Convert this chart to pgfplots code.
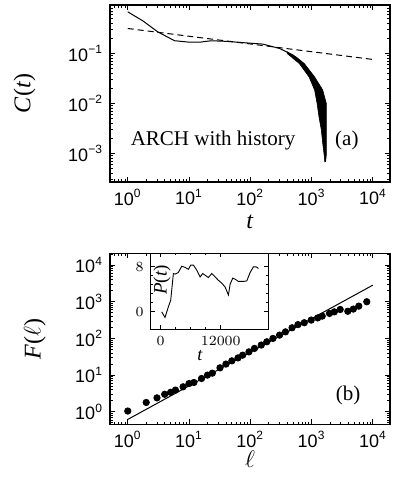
\documentclass[border=0pt]{standalone}
\usepackage{fontspec}
\setmainfont{Liberation Serif}
\setsansfont{Liberation Sans}
\usepackage{pgfplots}
\pgfplotsset{compat=1.18}

\pgfplotstableread{
t C
1 0.68
1.76 0.45
3.1 0.27
5.8 0.18
10.2 0.168
14.8 0.168
21.6 0.178
28 0.178
40 0.175
86 0.163
160 0.154
300 0.126
495 0.093
720 0.063
990 0.034
1260 0.016
1440 0.0074
1590 0.0029
1670 0.00068
}\ctable

\pgfplotstableread{
l F
1 1.05
2 1.8
3 2.4
4 3.0
5 3.4
6 3.9
8 4.8
10 5.9
12 6.3
16 8.1
20 10
24 11.3
32 15.8
40 20
50 24.5
63 29.5
75 35
95 43
117 53.5
151 66
186 81
234 100
300 123
375 151
480 195
600 238
760 268
985 316
1260 363
1490 405
1960 480
2350 530
2930 615
3900 550
4800 630
5900 760
7960 1000
}\ftable

\pgfplotstableread{
t P
200 0
860 -1.0
1530 0.9
2000 2.07
2530 6.8
2870 6.7
3530 7.0
4200 8.1
4870 7.9
5530 7.55
6000 8.3
6530 8.3
7200 7.4
7870 6.2
8400 6.8
8870 6.5
9530 6.1
10200 6.8
10870 6.2
11530 5.6
12200 5.1
12870 4.4
13530 3.0
13870 4.9
14400 6.0
14870 5.8
15530 5.4
16530 5.4
17200 5.5
17870 7.0
18530 8.0
19070 8.0
19530 7.7
}\ptable

\begin{document}
\begin{tikzpicture}
\path[use as bounding box] (0pt,0pt) rectangle (196.5pt,242.5pt);
\pgfplotsset{
  every axis/.append style={
    scale only axis, anchor=south west,
    axis line style={line width=0.75pt},
    every tick/.style={line width=0.4pt, black},
    major tick length=2.4pt, minor tick length=1.3pt,
    tick align=inside, tick pos=both,
    tick label style={font=\fontsize{9}{9}\sffamily},
    label style={font=\fontsize{12}{12}\selectfont},
  },
}
% ---------------- panel (a)
\begin{axis}[
  at={(55pt,151.5pt)}, width=140pt, height=88.5pt,
  xmode=log, ymode=log,
  xmin=0.513, xmax=19055, ymin=2.69e-4, ymax=0.933,
  xtick={1,10,100,1000,10000},
  xticklabels={10\textsuperscript{0},10\textsuperscript{1},10\textsuperscript{2},10\textsuperscript{3},10\textsuperscript{4}},
  ytick={0.001,0.01,0.1},
  yticklabels={10\textsuperscript{−3},10\textsuperscript{−2},10\textsuperscript{−1}},
  minor xtick={0.6,0.7,0.8,0.9,2,3,4,5,6,7,8,9,20,30,40,50,60,70,80,90,200,300,400,500,600,700,800,900,2000,3000,4000,5000,6000,7000,8000,9000},
  minor ytick={0.0003,0.0004,0.0005,0.0006,0.0007,0.0008,0.0009,0.002,0.003,0.004,0.005,0.006,0.007,0.008,0.009,0.02,0.03,0.04,0.05,0.06,0.07,0.08,0.09,0.2,0.3,0.4,0.5,0.6,0.7,0.8,0.9},
  xlabel={\textit{t}},
  ylabel={\textit{C}(\textit{t})},
  xlabel style={at={(axis description cs:0.5,-0.224)}, anchor=center},
  ylabel style={at={(axis description cs:-0.305,0.5)}, anchor=center},
]
\addplot[black, line width=0.5pt] table[x=t,y=C] {\ctable};
\addplot[black, fill=black, line width=0.3pt] coordinates {
 (400,0.108) (560,0.085) (760,0.063) (1120,0.034) (1520,0.0186) (1740,0.01) (1745,0.0054) (1745,0.003) (1740,0.0016) (1735,0.0009) (1700,0.0007)
 (1650,0.00068) (1620,0.00085) (1520,0.0016) (1440,0.003) (1320,0.0054) (1230,0.01) (1120,0.0186) (910,0.034) (630,0.063) (400,0.1)
} -- cycle;
\addplot[black, line width=0.5pt, dash pattern=on 3pt off 2pt] coordinates {(1,0.316) (10000,0.076)};
\node[font=\fontsize{10.5}{10.5}\selectfont] at (axis description cs:0.368,0.232) {ARCH with history};
\node[font=\fontsize{10.5}{10.5}\selectfont] at (axis description cs:0.846,0.232) {(a)};
\end{axis}
% ---------------- panel (b)
\begin{axis}[
  at={(55pt,30.35pt)}, width=140pt, height=85.5pt,
  xmode=log, ymode=log,
  xmin=0.513, xmax=19055, ymin=0.457, ymax=20900,
  xtick={1,10,100,1000,10000},
  xticklabels={10\textsuperscript{0},10\textsuperscript{1},10\textsuperscript{2},10\textsuperscript{3},10\textsuperscript{4}},
  ytick={1,10,100,1000,10000},
  yticklabels={10\textsuperscript{0},10\textsuperscript{1},10\textsuperscript{2},10\textsuperscript{3},10\textsuperscript{4}},
  minor xtick={0.6,0.7,0.8,0.9,2,3,4,5,6,7,8,9,20,30,40,50,60,70,80,90,200,300,400,500,600,700,800,900,2000,3000,4000,5000,6000,7000,8000,9000},
  minor ytick={0.5,0.6,0.7,0.8,0.9,2,3,4,5,6,7,8,9,20,30,40,50,60,70,80,90,200,300,400,500,600,700,800,900,2000,3000,4000,5000,6000,7000,8000,9000,20000},
  xlabel={$\ell$},
  ylabel={\textit{F}($\ell$)},
  xlabel style={at={(axis description cs:0.5,-0.205)}, anchor=center},
  ylabel style={at={(axis description cs:-0.268,0.5)}, anchor=center},
]
\addplot[black, line width=0.5pt] coordinates {(1,0.62) (10000,2835)};
\addplot[only marks, mark=*, mark size=1.6pt, black] table[x=l,y=F] {\ftable};
\node[font=\fontsize{10.5}{10.5}\selectfont] at (axis description cs:0.85,0.171) {(b)};
\end{axis}
% ---------------- inset
\begin{axis}[
  at={(75.35pt,77.85pt)}, width=58.8pt, height=38pt,
  axis background/.style={fill=white},
  xmin=-2000, xmax=21500, ymin=-3.1, ymax=10.4,
  xtick={0,12000}, ytick={0,8},
  minor x tick num=3, minor y tick num=4,
  major tick length=2pt, minor tick length=1.1pt,
  tick label style={font=\fontsize{7.4}{7.4}\sffamily},
  scaled x ticks=false,
  xticklabel style={/pgf/number format/.cd, set thousands separator={}, fixed},
  xlabel={\textit{t}}, ylabel={\textit{P}(\textit{t})},
  xlabel style={font=\fontsize{9}{9}\selectfont, at={(axis description cs:0.42,-0.34)}, anchor=center},
  ylabel style={font=\fontsize{9.5}{9.5}\selectfont, at={(axis description cs:0.096,0.65)}, anchor=center},
]
\addplot[black, line width=0.45pt] table[x=t,y=P] {\ptable};
\end{axis}
\end{tikzpicture}
\end{document}
